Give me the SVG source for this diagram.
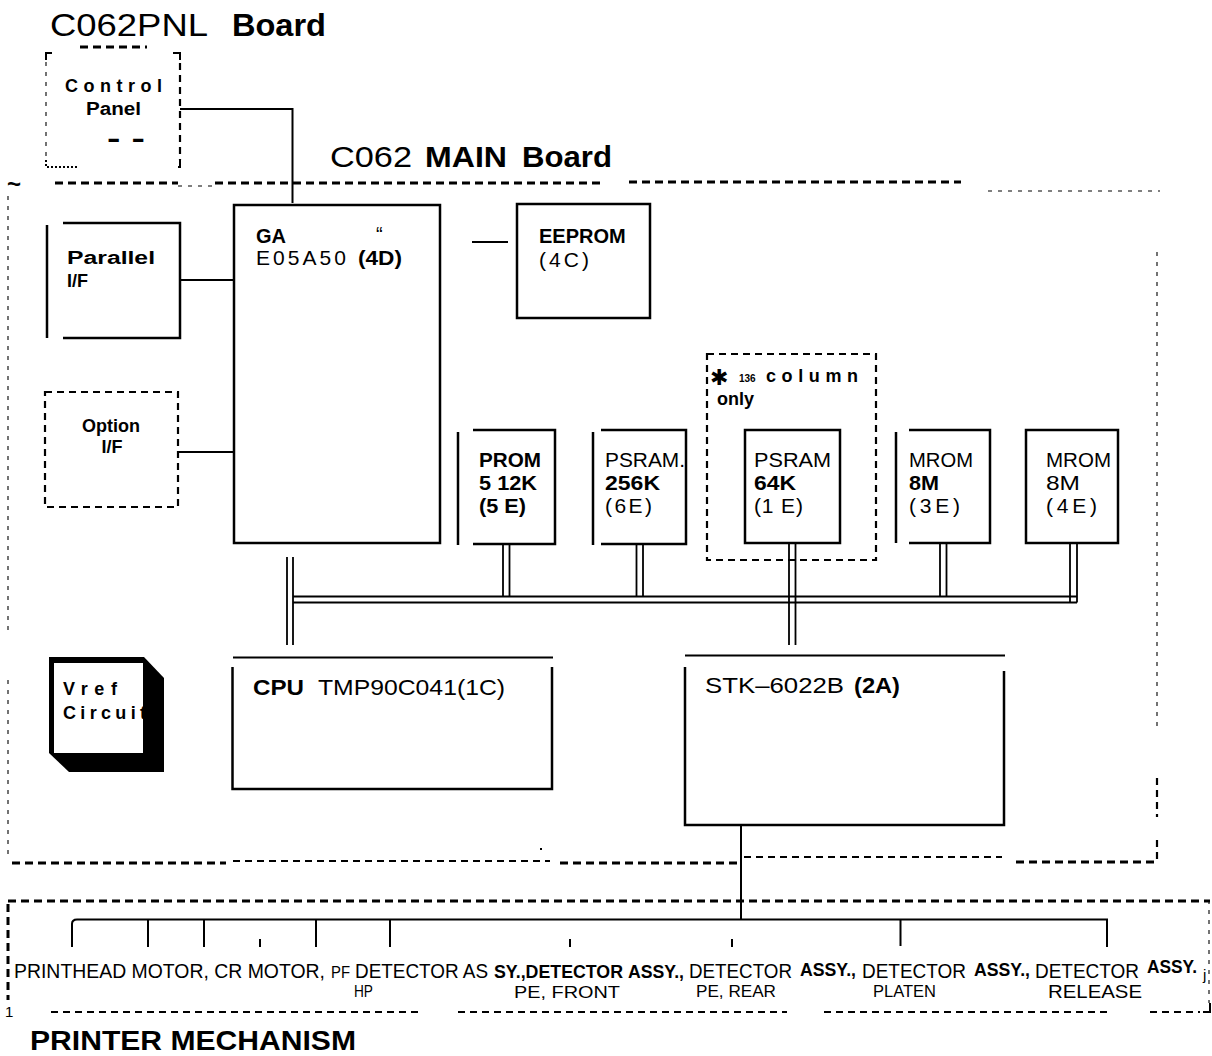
<svg xmlns="http://www.w3.org/2000/svg" width="1212" height="1056" viewBox="0 0 1212 1056">
<style>
text{font-family:"Liberation Sans",Arial,sans-serif;fill:#000}
.b{font-weight:bold}
.ln{stroke:#000;stroke-width:2;fill:none}
.bx{stroke:#000;stroke-width:2.5;fill:none}
.dbl{stroke:#000;stroke-width:1.8;fill:none}
.dk{stroke:#000;stroke-width:3;fill:none;stroke-dasharray:8 5}
.dm{stroke:#000;stroke-width:2.2;fill:none;stroke-dasharray:7 5}
.dt{stroke:#000;stroke-width:1.1;fill:none;stroke-dasharray:4 6}
.chip{font-size:20px}
.pm{font-size:19.4px}
.pmb{font-size:18px;font-weight:bold}
.pm2{font-size:17px}
</style>
<rect width="1212" height="1056" fill="#fff"/>

<g id="titles">
<text x="50" y="36" font-size="31" textLength="158" lengthAdjust="spacingAndGlyphs">C062PNL</text>
<text x="232" y="36" font-size="31" class="b" textLength="94" lengthAdjust="spacingAndGlyphs">Board</text>
<text x="330" y="167" font-size="30" textLength="82" lengthAdjust="spacingAndGlyphs">C062</text>
<text x="425" y="167" font-size="30" class="b" textLength="82" lengthAdjust="spacingAndGlyphs">MAIN</text>
<text x="522" y="167" font-size="30" class="b" textLength="90" lengthAdjust="spacingAndGlyphs">Board</text>
<text x="30" y="1050" font-size="27" class="b" textLength="326" lengthAdjust="spacingAndGlyphs">PRINTER  MECHANISM</text>
</g>

<g id="main-board-frame">
<text x="7" y="192" font-size="24" class="b">~</text>
<path class="dk" d="M55,183 H178 M215,183 H600 M629,182 H961"/>
<path class="dt" d="M178,186 H215 M988,191 H1160"/>
<path class="dt" d="M8,196 V630 M8,680 V860"/>
<path class="dt" d="M1157,252 V727"/>
<path class="dm" d="M1157,778 V817 M1157,840 V860"/>
<path class="dk" d="M12,863 H226 M560,863 H738 M1016,862 H1154"/>
<path class="dm" stroke-width="1.6" d="M233,861 H550 M744,857 H1002"/>
<rect x="540" y="848" width="2" height="2" fill="#000"/>
</g>

<g id="printer-frame">
<path class="dk" stroke-width="2.5" d="M8,901 H1210"/>
<path class="dk" stroke-width="2.5" d="M8,904 V1000"/>
<path class="dt" d="M1209,900 V1003"/>
<path class="ln" stroke-width="3" d="M1203,1012 H1210 V1003"/>
<path class="dm" stroke-width="1.6" d="M51,1012 H419 M458,1012 H787 M824,1012 H1111 M1150,1012 H1200"/>
<text x="5" y="1017" font-size="15">1</text>
</g>

<g id="control-panel">
<path class="dk" stroke-dasharray="6 3" d="M80,47 H147"/>
<path class="ln" d="M46,60 V53 H52 M173,53 H180 V60 M178,167 H180 V160"/>
<path class="dt" d="M46,62 V160"/>
<path class="ln" stroke-width="1.4" stroke-dasharray="2 2" d="M46,160 V167 H77"/>
<path class="dm" d="M180,63 V160"/>
<text x="65" y="92" font-size="18" class="b" textLength="97" lengthAdjust="spacing">Control</text>
<text x="86" y="115" font-size="18" class="b" textLength="55" lengthAdjust="spacingAndGlyphs">Panel</text>
<text x="107" y="148" font-size="28" class="b" textLength="38" lengthAdjust="spacingAndGlyphs">- -</text>
</g>

<g id="parallel-if">
<path class="bx" d="M63,223 H180 V338 H63 M47,225 V338"/>
<text x="67" y="264" font-size="18" class="b" textLength="88" lengthAdjust="spacingAndGlyphs">Parallel</text>
<text x="67" y="287" font-size="18" class="b">I/F</text>
</g>

<g id="option-if">
<rect x="45" y="392" width="133" height="115" class="dm"/>
<text x="111" y="432" font-size="18" class="b" text-anchor="middle">Option</text>
<text x="112" y="453" font-size="18" class="b" text-anchor="middle">I/F</text>
</g>

<g id="ga">
<rect x="234" y="205" width="206" height="338" class="bx"/>
<text x="256" y="243" class="chip b">GA</text>
<text x="376" y="241" font-size="20">“</text>
<text x="256" y="265" font-size="21" textLength="90" lengthAdjust="spacing">E05A50</text>
<text x="358" y="265" class="chip b" textLength="44" lengthAdjust="spacingAndGlyphs">(4D)</text>
</g>

<g id="eeprom">
<rect x="517" y="204" width="133" height="114" class="bx"/>
<text x="539" y="243" class="chip b">EEPROM</text>
<text x="539" y="267" font-size="21" textLength="50" lengthAdjust="spacing">(4C)</text>
</g>

<g id="column-only">
<rect x="707" y="354" width="169" height="206" class="dm"/>
<text x="710" y="385" font-size="22" class="b" style="font-family:'DejaVu Sans',sans-serif">✱</text>
<text x="739" y="382" font-size="10" class="b">136</text>
<text x="766" y="382" font-size="18" class="b" textLength="92" lengthAdjust="spacing">column</text>
<text x="717" y="405" font-size="18" class="b">only</text>
</g>

<g id="prom">
<path class="bx" d="M473,430 H555 V544 H473 M458,432 V545"/>
<text x="479" y="467" class="chip b" textLength="62" lengthAdjust="spacingAndGlyphs">PROM</text>
<text x="479" y="490" class="chip b" textLength="58" lengthAdjust="spacingAndGlyphs">5 12K</text>
<text x="479" y="513" class="chip b" textLength="47" lengthAdjust="spacingAndGlyphs">(5 E)</text>
</g>

<g id="psram-256k">
<path class="bx" d="M601,430 H686 V544 H601 M593,432 V545"/>
<text x="605" y="467" class="chip" textLength="80" lengthAdjust="spacingAndGlyphs">PSRAM.</text>
<text x="605" y="490" class="chip b" textLength="55" lengthAdjust="spacingAndGlyphs">256K</text>
<text x="605" y="513" font-size="21" textLength="47" lengthAdjust="spacing">(6E)</text>
</g>

<g id="psram-64k">
<rect x="745" y="430" width="95" height="113" class="bx"/>
<text x="754" y="467" class="chip" textLength="77" lengthAdjust="spacingAndGlyphs">PSRAM</text>
<text x="754" y="490" class="chip b" textLength="42" lengthAdjust="spacingAndGlyphs">64K</text>
<text x="754" y="513" font-size="21" textLength="49" lengthAdjust="spacing">(1 E)</text>
</g>

<g id="mrom-3e">
<path class="bx" d="M909,430 H990 V543 H909 M896,432 V543"/>
<text x="909" y="467" class="chip" textLength="64" lengthAdjust="spacingAndGlyphs">MROM</text>
<text x="909" y="490" class="chip b" textLength="30" lengthAdjust="spacingAndGlyphs">8M</text>
<text x="909" y="513" font-size="21" textLength="51" lengthAdjust="spacing">(3E)</text>
</g>

<g id="mrom-4e">
<rect x="1026" y="430" width="92" height="113" class="bx"/>
<text x="1046" y="467" class="chip" textLength="65" lengthAdjust="spacingAndGlyphs">MROM</text>
<text x="1046" y="490" class="chip" textLength="34" lengthAdjust="spacingAndGlyphs">8M</text>
<text x="1046" y="513" font-size="21" textLength="51" lengthAdjust="spacing">(4E)</text>
</g>

<g id="vref">
<polygon points="49,657 144,657 164,678 164,772 69,772 49,753" fill="#000"/>
<rect x="54" y="663" width="89" height="90" fill="#fff"/>
<text x="63" y="695" font-size="18" class="b" textLength="54" lengthAdjust="spacing">Vref</text>
<text x="63" y="719" font-size="18" class="b" textLength="83" lengthAdjust="spacing">Circuit</text>
</g>

<g id="cpu">
<path class="ln" stroke-width="4" d="M233,657.5 H553"/>
<path class="bx" d="M232.5,667 V789 H552 V667"/>
<text x="253" y="695" font-size="22" class="b" textLength="51" lengthAdjust="spacingAndGlyphs">CPU</text>
<text x="318" y="695" font-size="22" textLength="187" lengthAdjust="spacingAndGlyphs">TMP90C041(1C)</text>
</g>

<g id="stk">
<path class="ln" stroke-width="3" d="M685,655.5 H1005"/>
<path class="bx" d="M685,667 V825 H1004 V671"/>
<text x="705" y="693" font-size="22" textLength="139" lengthAdjust="spacingAndGlyphs">STK–6022B</text>
<text x="854" y="693" font-size="22" class="b" textLength="46" lengthAdjust="spacingAndGlyphs">(2A)</text>
</g>

<g id="printer-mechanism-parts">
<text x="14" y="978" class="pm" textLength="311" lengthAdjust="spacingAndGlyphs">PRINTHEAD MOTOR, CR MOTOR,</text>
<text x="331" y="978" font-size="16" textLength="19" lengthAdjust="spacingAndGlyphs">PF</text>
<text x="355" y="978" class="pm" textLength="133" lengthAdjust="spacingAndGlyphs">DETECTOR AS</text>
<text x="494" y="978" class="pmb" textLength="129" lengthAdjust="spacingAndGlyphs">SY.,DETECTOR</text>
<text x="628" y="978" class="pmb" textLength="56" lengthAdjust="spacingAndGlyphs">ASSY.,</text>
<text x="689" y="978" class="pm" textLength="103" lengthAdjust="spacingAndGlyphs">DETECTOR</text>
<text x="800" y="976" class="pmb" textLength="56" lengthAdjust="spacingAndGlyphs">ASSY.,</text>
<text x="862" y="978" class="pm" textLength="104" lengthAdjust="spacingAndGlyphs">DETECTOR</text>
<text x="974" y="976" class="pmb" textLength="56" lengthAdjust="spacingAndGlyphs">ASSY.,</text>
<text x="1035" y="978" class="pm" textLength="104" lengthAdjust="spacingAndGlyphs">DETECTOR</text>
<text x="1147" y="973" class="pmb" textLength="50" lengthAdjust="spacingAndGlyphs">ASSY.</text>
<text x="1203" y="980" font-size="15">j</text>
<text x="354" y="997" class="pm2" textLength="19" lengthAdjust="spacingAndGlyphs">HP</text>
<text x="514" y="998" class="pm2" textLength="106" lengthAdjust="spacingAndGlyphs">PE, FRONT</text>
<text x="696" y="997" class="pm2" textLength="80" lengthAdjust="spacingAndGlyphs">PE,  REAR</text>
<text x="873" y="997" class="pm2" textLength="63" lengthAdjust="spacingAndGlyphs">PLATEN</text>
<text x="1048" y="998" font-size="19" textLength="94" lengthAdjust="spacingAndGlyphs">RELEASE</text>
</g>

<g id="connectors">
<path class="ln" d="M180,109 H292.5 V203"/>
<path class="ln" d="M180,280 H234"/>
<path class="ln" d="M178,452 H234"/>
<path class="ln" stroke-width="2.5" d="M472,242 H508"/>
<path class="dbl" d="M287,557 V645 M293,557 V645"/>
<path class="dbl" d="M293,596.5 H1077 M293,602.5 H1077"/>
<path class="dbl" d="M503,544 V596.5 M509.5,544 V596.5"/>
<path class="dbl" d="M636.5,544 V596.5 M643,544 V596.5"/>
<path class="dbl" d="M789,543 V645 M795.5,543 V645"/>
<path class="dbl" d="M940,543 V596.5 M946.5,543 V596.5"/>
<path class="dbl" d="M1070,543 V602.5 M1077,543 V602.5"/>
<path class="ln" d="M741,825 V919.5"/>
<path class="ln" stroke-width="2.5" d="M72,947 V924 Q72,919.5 77,919.5 H1107 V947"/>
<path class="ln" d="M148,919.5 V947 M204,919.5 V947 M316,919.5 V947 M390,919.5 V947 M900.5,919.5 V946"/>
<path class="ln" stroke-width="1.5" d="M260,939 V947 M570,939 V947 M732,939 V947"/>
</g>
</svg>
